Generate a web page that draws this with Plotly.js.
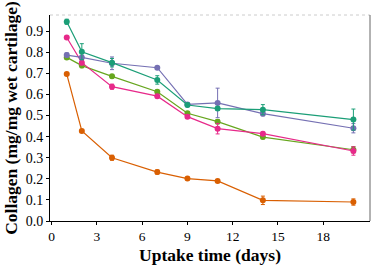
<!DOCTYPE html>
<html><head><meta charset="utf-8">
<script src="https://cdn.plot.ly/plotly-3.0.1.min.js"></script>
<style>html,body{margin:0;padding:0;background:#fff}#c{width:372px;height:265px}</style>
</head><body><div id="c"></div>
<script>
var days = [1, 2, 4, 7, 9, 11, 14, 20];
var seriesTeal = [0.945, 0.803, 0.751, 0.669, 0.550, 0.533, 0.528, 0.481];
var errTeal    = [0.012, 0.038, 0.020, 0.020, 0.008, 0.008, 0.024, 0.050];
var seriesPurple = [0.787, 0.776, 0.748, 0.727, 0.553, 0.560, 0.509, 0.440];
var errPurple    = [0.010, 0.010, 0.030, 0.005, 0.008, 0.070, 0.010, 0.022];
var seriesPink = [0.870, 0.751, 0.637, 0.592, 0.495, 0.438, 0.414, 0.332];
var errPink    = [0.006, 0.010, 0.012, 0.008, 0.008, 0.025, 0.008, 0.020];
var seriesLime = [0.776, 0.737, 0.686, 0.613, 0.511, 0.471, 0.398, 0.338];
var errLime    = [0.008, 0.010, 0.008, 0.008, 0.008, 0.010, 0.008, 0.015];
var seriesOrange = [0.697, 0.427, 0.300, 0.232, 0.201, 0.190, 0.098, 0.090];
var errOrange    = [0.006, 0.006, 0.012, 0.010, 0.006, 0.006, 0.020, 0.015];
var xTicks = [0, 3, 6, 9, 12, 15, 18];
var yTicks = [0.0, 0.1, 0.2, 0.3, 0.4, 0.5, 0.6, 0.7, 0.8, 0.9];

function tr(y, e, color) {
  return {x: days, y: y, type: 'scatter', mode: 'lines+markers',
    line: {color: color, width: 1.2},
    marker: {color: color, size: 6},
    error_y: {type: 'data', array: e, visible: true, color: color, thickness: 1, width: 2},
    showlegend: false};
}
var data = [
  tr(seriesOrange, errOrange, '#d95f02'),
  tr(seriesLime, errLime, '#66a61e'),
  tr(seriesPink, errPink, '#e7298a'),
  tr(seriesPurple, errPurple, '#7570b3'),
  tr(seriesTeal, errTeal, '#1b9e77')
];
var font = {family: 'Liberation Serif, Times New Roman, serif', color: '#000'};
var layout = {
  width: 372, height: 265,
  margin: {l: 50, r: 2, t: 15, b: 44},
  paper_bgcolor: '#fff', plot_bgcolor: '#fff',
  font: font,
  xaxis: {range: [-0.11, 21.1], tickvals: xTicks, ticktext: xTicks.map(String),
    showgrid: false, zeroline: false, showline: true, linecolor: '#000', linewidth: 1,
    ticks: 'outside', ticklen: 3, tickcolor: '#000',
    tickfont: {family: font.family, size: 13.5, color: '#000'},
    title: {text: '<b>Uptake time (days)</b>', font: {family: font.family, size: 17.5, color: '#000'}, standoff: 6}},
  yaxis: {range: [0, 0.977], tickvals: yTicks, ticktext: yTicks.map(function(v){return v.toFixed(1);}),
    showgrid: false, zeroline: false, showline: true, linecolor: '#000', linewidth: 1,
    ticks: 'outside', ticklen: 3, tickcolor: '#000',
    tickfont: {family: font.family, size: 14, color: '#000'},
    title: {text: '<b>Collagen (mg/mg wet cartilage)</b>', font: {family: font.family, size: 17.5, color: '#000'}, standoff: 3}},
  shapes: [
    {type: 'line', xref: 'paper', yref: 'paper', x0: 0, x1: 1, y0: 1, y1: 1, line: {color: '#ccc', width: 1, dash: 'dot'}},
    {type: 'line', xref: 'paper', yref: 'paper', x0: 1, x1: 1, y0: 0, y1: 1, line: {color: '#666', width: 1}}
  ]
};
Plotly.newPlot('c', data, layout, {displayModeBar: false, staticPlot: true});
</script></body></html>
